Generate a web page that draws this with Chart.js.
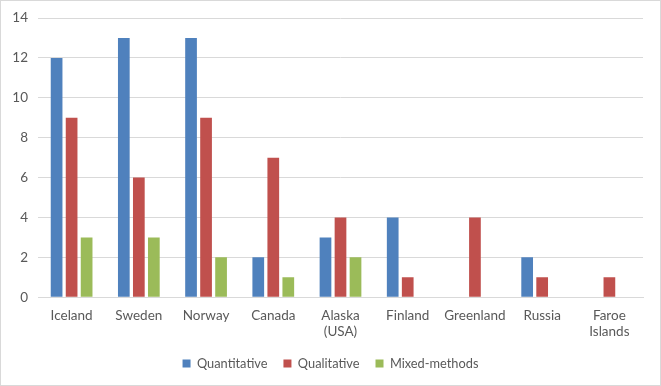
<!DOCTYPE html>
<html>
<head>
<meta charset="utf-8">
<script src="https://cdn.jsdelivr.net/npm/chart.js@4/dist/chart.umd.min.js"></script>
<style>
  html, body { margin: 0; padding: 0; background: #fff; }
  #frame { position: absolute; left: 0; top: 0; width: 661px; height: 386px; box-sizing: border-box; border: 1px solid #d9d9d9; }
  #myChart { position: absolute; left: 0; top: 0; }
</style>
</head>
<body>
<div id="frame"></div>
<canvas id="myChart" width="661" height="386"></canvas>
<script>
var countries = ['Iceland', 'Sweden', 'Norway', 'Canada', ['Alaska', '(USA)'], 'Finland', 'Greenland', 'Russia', ['Faroe', 'Islands']];
var quantitative = [12, 13, 13, 2, 3, 4, 0, 2, 0];
var qualitative = [9, 6, 9, 7, 4, 1, 4, 1, 1];
var mixedMethods = [3, 3, 2, 1, 2, 0, 0, 0, 0];
var yTicks = [0, 2, 4, 6, 8, 10, 12, 14];

var textColor = '#595959';
var gridColor = '#d9d9d9';
var font = { family: 'Lato', size: 13.5 };

var ctx = document.getElementById('myChart').getContext('2d');
var myChart = new Chart(ctx, {
  type: 'bar',
  data: {
    labels: countries,
    datasets: [
      { label: 'Quantitative', data: quantitative, backgroundColor: '#4f81bd' },
      { label: 'Qualitative', data: qualitative, backgroundColor: '#c0504d' },
      { label: 'Mixed-methods', data: mixedMethods, backgroundColor: '#9bbb59' }
    ]
  },
  options: {
    responsive: false,
    animation: false,
    categoryPercentage: 0.67,
    barPercentage: 0.78,
    layout: { padding: { left: 0, right: 0, top: 11, bottom: 6 } },
    plugins: {
      tooltip: { enabled: false },
      legend: {
        position: 'bottom',
        labels: { boxWidth: 8, boxHeight: 8, color: textColor, font: { family: 'Lato', size: 12.8 }, padding: 16 }
      }
    },
    scales: {
      x: {
        grid: { display: false },
        border: { color: gridColor },
        ticks: { color: textColor, font: font, padding: 2, maxRotation: 0 },
        afterFit: function(scale) { scale.height = 44; }
      },
      y: {
        min: 0,
        max: 14,
        afterBuildTicks: function(scale) { scale.ticks = yTicks.map(function(v) { return { value: v }; }); },
        grid: { color: gridColor, drawTicks: false },
        border: { display: false },
        ticks: { color: textColor, font: font, padding: 10 },
        afterFit: function(scale) { scale.width = 38; }
      },
      // empty right-hand axis that only keeps the plot clear of the right edge
      yRight: {
        position: 'right',
        display: true,
        grid: { display: false },
        border: { display: false },
        ticks: { display: false },
        afterFit: function(scale) { scale.width = 18; }
      }
    }
  }
});
</script>
</body>
</html>
